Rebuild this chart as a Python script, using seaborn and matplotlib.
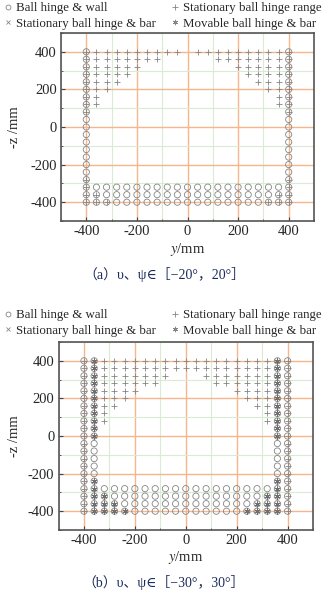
import pandas as pd
import matplotlib.pyplot as plt
import seaborn as sns
from matplotlib.lines import Line2D
from matplotlib.ticker import MultipleLocator

# grid positions (mm), used for y and for -z
grid = [-400, -360, -320, -280, -240, -200, -160, -120, -80, -40, 0,
        40, 80, 120, 160, 200, 240, 280, 320, 360, 400]
rows = grid[::-1]   # top row (-z = 400) first

# (a) v,psi in [-20, 20]
wall_cols_a = 1     # wall columns on each side
wall_rows_a = 3     # wall rows at the bottom
# stationary hinge range: points per side, counted from the edge, per row
range_a = [10, 8, 6, 5, 4, 3, 2, 2, 1, 0, 0, 0, 0, 0, 0, 0, 0, 1, 1, 2, 3]
# movable hinges: points per side, counted from 2nd column, per row
movable_a = [0, 0, 0, 0, 0, 0, 0, 0, 0, 0, 0, 0, 0, 0, 0, 0, 0, 0, 0, 0, 0]

# (b) v,psi in [-30, 30]
wall_cols_b = 2
wall_rows_b = 4
range_b = [11, 11, 9, 8, 6, 5, 4, 3, 3, 1, 1, 1, 1, 1, 1, 1, 1, 1, 1, 1, 1]
movable_b = [1, 1, 1, 1, 1, 1, 1, 1, 1, 1, 1, 0, 0, 0, 0, 0, 1, 1, 2, 3, 4]

captions = ['（a）υ、ψ∈［−20°，20°］', '（b）υ、ψ∈［−30°，30°］']
labels = ['Ball hinge & wall', 'Stationary ball hinge & bar',
          'Stationary ball hinge range', 'Movable ball hinge & bar']

sns.set_style('ticks')
serif = ['Liberation Serif', 'DejaVu Serif', 'Noto Sans CJK SC']
plt.rcParams['font.family'] = serif
plt.rcParams['mathtext.fontset'] = 'stix'
plt.rcParams['axes.unicode_minus'] = False

gray = '#858585'


def side_points(counts, start=0):
    pts = set()
    for z, n in zip(rows, counts):
        for k in range(start, start + n):
            pts.add((grid[k], z))
            pts.add((grid[-1 - k], z))
    return pts


def wall_points(ncols, nrows):
    pts = set()
    for z in rows:
        for k in range(ncols):
            pts.add((grid[k], z))
            pts.add((grid[-1 - k], z))
    for z in grid[:nrows]:
        for y in grid:
            pts.add((y, z))
    return pts


def to_df(pts):
    pts = sorted(pts)
    return pd.DataFrame({'y': [p[0] for p in pts], 'z': [p[1] for p in pts]})


fig = plt.figure(figsize=(3.28, 5.94), dpi=100)
W, H = 328, 594
boxes = [(61, 33, 314, 221), (58.5, 342, 313, 530)]
panels = [(wall_cols_a, wall_rows_a, range_a, movable_a),
          (wall_cols_b, wall_rows_b, range_b, movable_b)]
legend_top = [2, 309]
xlabel_y = [249, 557]
caption_y = [274, 582]

for i, (box, (wc, wr, rng, mov)) in enumerate(zip(boxes, panels)):
    x0, y0, x1, y1 = box
    ax = fig.add_axes([x0 / W, 1 - y1 / H, (x1 - x0) / W, (y1 - y0) / H])

    wall = wall_points(wc, wr)
    movable = side_points(mov, start=1)
    stat = side_points(rng) - movable

    ax.set_xlim(-500, 500)
    ax.set_ylim(-500, 500)
    ax.xaxis.set_major_locator(MultipleLocator(200))
    ax.yaxis.set_major_locator(MultipleLocator(200))
    ax.xaxis.set_minor_locator(MultipleLocator(100))
    ax.yaxis.set_minor_locator(MultipleLocator(100))
    ax.grid(which='minor', color='#d9ebd3', lw=0.8)
    ax.grid(which='major', color='#f7b68a', lw=1.0)
    ax.set_axisbelow(True)

    sns.scatterplot(data=to_df(wall), x='y', y='z', marker='o', s=20,
                    facecolor='none', edgecolor=gray, linewidth=0.6, ax=ax,
                    zorder=3)
    sns.scatterplot(data=to_df(stat), x='y', y='z', marker='+', s=20,
                    color=gray, linewidth=0.6, ax=ax, zorder=4)
    if movable:
        sns.scatterplot(data=to_df(movable), x='y', y='z', marker=(6, 2, 0),
                        s=16, color='#6f6f6f', linewidth=0.6, ax=ax, zorder=4)

    ax.tick_params(which='both', direction='in', labelsize=10.5,
                   color='#444444', pad=3)
    ax.tick_params(which='major', length=3)
    ax.tick_params(which='minor', length=1.5)
    for sp in ax.spines.values():
        sp.set_color('#555555')
        sp.set_linewidth(1.2)

    ax.set_xlabel('$y$/mm', fontsize=10.5)
    ax.set_ylabel('-z /mm', fontsize=10.5)
    ax.xaxis.set_label_coords(0.5, (y1 - xlabel_y[i]) / (y1 - y0))
    ax.xaxis.label.set_va('center')
    ax.yaxis.set_label_coords((15 - x0) / (x1 - x0), 0.5)
    ax.yaxis.label.set_va('center')

    handles = [
        Line2D([], [], ls='', marker='o', ms=3.5, mfc='none', mec=gray, mew=0.6),
        Line2D([], [], ls='', marker='x', ms=3.5, mec=gray, mew=0.6),
        Line2D([], [], ls='', marker='+', ms=3.8, mec=gray, mew=0.6),
        Line2D([], [], ls='', marker=(6, 2, 0), ms=3.8, mec=gray, mew=0.6),
    ]
    ax.legend(handles, labels, ncol=2, frameon=False, fontsize=9.3,
              loc='upper left', bbox_to_anchor=(3 / W, 1 - legend_top[i] / H),
              bbox_transform=fig.transFigure, borderpad=0, borderaxespad=0,
              handlelength=0.7, handletextpad=0.3, columnspacing=1.1,
              labelspacing=0.3)

    fig.text(0.5, 1 - caption_y[i] / H, captions[i], ha='center', va='center',
             fontsize=10, color='#1c2b5e')

fig.savefig('out.png', dpi=100)
